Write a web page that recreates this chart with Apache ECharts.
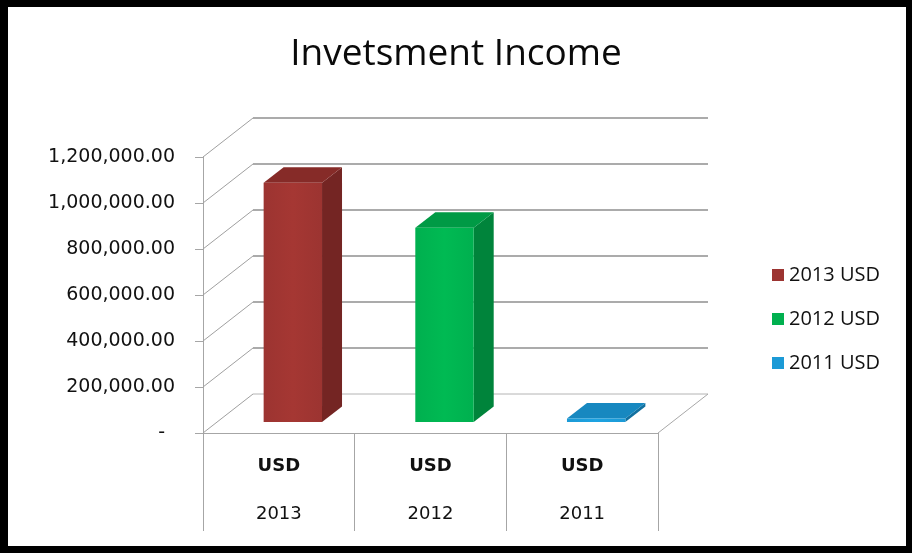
<!DOCTYPE html>
<html>
<head>
<meta charset="utf-8">
<title>Invetsment Income</title>
<script src="https://cdn.jsdelivr.net/npm/echarts@6/dist/echarts.min.js"></script>
<style>
  html, body { margin: 0; padding: 0; background: #fff; }
  #chart { width: 912px; height: 553px; }
</style>
</head>
<body>
<div id="chart"></div>
<script>
// Categories along the bottom table and the currency row above them
const categories = ['2013', '2012', '2011'];
const currency = 'USD';
// One entry per year, as named in the legend
const seriesNames = ['2013 USD', '2012 USD', '2011 USD'];
const values = [1040000, 845000, 15000];
// Value axis ticks
const yTicks = [0, 200000, 400000, 600000, 800000, 1000000, 1200000];

// Face colours for each bar: front, side, top
const faceColors = [
  { front: '#9c3431', side: '#742523', top: '#862b28' },
  { front: '#00b04f', side: '#00843b', top: '#009a45' },
  { front: '#1c9ad6', side: '#12709f', top: '#1788c0' }
];

// Depth of the chart box (oblique projection offset from front to back wall)
const DEPTH_X = 50, DEPTH_Y = -39;
// Bars stand a little way into the box and have their own depth
const BAR_SHIFT_X = 14, BAR_SHIFT_Y = -11;
const BAR_DX = 20, BAR_DY = -15.5;

const chart = echarts.init(document.getElementById('chart'), null, { renderer: 'canvas' });

function renderWall(params, api) {
  const cs = params.coordSys;
  const v = api.value(1);
  const y = api.coord([0, v])[1];
  const left = cs.x, right = cs.x + cs.width;
  const pts = [[left, y], [left + DEPTH_X, y + DEPTH_Y], [right + DEPTH_X, y + DEPTH_Y]];
  const children = [
    { type: 'polyline', shape: { points: [pts[0], pts[1]] }, style: { stroke: '#a0a0a0', lineWidth: 1, fill: null } },
    { type: 'polyline', shape: { points: [pts[1], pts[2]] }, style: { stroke: v === 0 ? '#b4b4b4' : '#8f8f8f', lineWidth: v === 0 ? 1 : 1.6, fill: null } }
  ];
  if (v === 0) {
    // right edge of the floor
    children.push({ type: 'polyline', shape: { points: [pts[2], [right, y]] }, style: { stroke: '#a8a8a8', lineWidth: 1, fill: null } });
  }
  return { type: 'group', children: children };
}

function makeBarRenderer(colors) {
  return function (params, api) {
    const cat = api.value(0), v = api.value(1);
    const top = api.coord([cat, v]);
    const base = api.coord([cat, 0]);
    const w = api.size([1, 0])[0] * 0.385;
    const x0 = top[0] + BAR_SHIFT_X - w / 2, x1 = x0 + w;
    const yb = base[1] + BAR_SHIFT_Y, yt = top[1] + BAR_SHIFT_Y;
    return {
      type: 'group',
      children: [
        { type: 'polygon', shape: { points: [[x1, yb], [x1 + BAR_DX, yb + BAR_DY], [x1 + BAR_DX, yt + BAR_DY], [x1, yt]] }, style: { fill: colors.side } },
        { type: 'polygon', shape: { points: [[x0, yt], [x1, yt], [x1 + BAR_DX, yt + BAR_DY], [x0 + BAR_DX, yt + BAR_DY]] }, style: { fill: colors.top } },
        { type: 'polygon', shape: { points: [[x0, yb], [x1, yb], [x1, yt], [x0, yt]] },
          style: { fill: new echarts.graphic.LinearGradient(0, 0, 1, 0, [
            { offset: 0, color: colors.front },
            { offset: 0.5, color: echarts.color.lift(colors.front, -0.06) },
            { offset: 1, color: colors.front }
          ]) } }
      ]
    };
  };
}

function formatMoney(v) {
  if (v === 0) return '{d|-}';
  return v.toLocaleString('en-US', { minimumFractionDigits: 2, maximumFractionDigits: 2 });
}

const barSeries = seriesNames.map((name, i) => ({
  name: name,
  type: 'custom',
  coordinateSystem: 'cartesian2d',
  renderItem: makeBarRenderer(faceColors[i]),
  itemStyle: { color: faceColors[i].front },
  data: [[i, values[i]]],
  z: 5
}));

const option = {
  animation: false,
  backgroundColor: '#ffffff',
  title: {
    text: 'Invetsment Income',
    left: 'center',
    top: 31,
    textStyle: { fontFamily: 'Open Sans', fontSize: 37, fontWeight: 'normal', color: '#0a0a0a' }
  },
  legend: {
    orient: 'vertical',
    left: 767,
    top: 259,
    itemWidth: 12,
    itemHeight: 12,
    itemGap: 22,
    icon: 'rect',
    data: seriesNames,
    textStyle: { fontFamily: 'Open Sans', fontSize: 20, lineHeight: 22, color: '#111' }
  },
  grid: { left: 203, right: 254, top: 157, bottom: 120 },
  xAxis: {
    type: 'category',
    data: categories,
    boundaryGap: true,
    axisLine: { show: true, lineStyle: { color: '#a6a6a6', width: 1 } },
    axisTick: { show: true, length: 98, alignWithLabel: false, lineStyle: { color: '#a6a6a6' } },
    axisLabel: {
      margin: 9,
      formatter: v => '{u|' + currency + '}\n{y|' + v + '}',
      rich: {
        u: { fontFamily: 'DejaVu Sans', fontSize: 18, fontWeight: 'bold', lineHeight: 48, color: '#111' },
        y: { fontFamily: 'DejaVu Sans', fontSize: 18, lineHeight: 48, color: '#111' }
      }
    },
    splitLine: { show: false }
  },
  yAxis: {
    type: 'value',
    min: 0,
    max: 1200000,
    interval: 200000,
    axisLine: { show: true, lineStyle: { color: '#a6a6a6', width: 1 } },
    axisTick: { show: true, length: 8, lineStyle: { color: '#a6a6a6' } },
    splitLine: { show: false },
    axisLabel: {
      margin: 28,
      formatter: formatMoney,
      fontFamily: 'DejaVu Sans',
      fontSize: 19,
      color: '#111',
      rich: { d: { fontFamily: 'DejaVu Sans', fontSize: 19, color: '#111', padding: [0, 10, 0, 0] } }
    }
  },
  graphic: [
    // outer black frame
    { type: 'rect', shape: { x: 0, y: 0, width: 8, height: 553 }, style: { fill: '#000' }, z: 100 },
    { type: 'rect', shape: { x: 0, y: 0, width: 912, height: 7 }, style: { fill: '#000' }, z: 100 },
    { type: 'rect', shape: { x: 906, y: 0, width: 6, height: 553 }, style: { fill: '#000' }, z: 100 },
    { type: 'rect', shape: { x: 0, y: 546, width: 912, height: 7 }, style: { fill: '#000' }, z: 100 }
  ],
  series: [
    {
      name: 'wall',
      type: 'custom',
      coordinateSystem: 'cartesian2d',
      renderItem: renderWall,
      silent: true,
      data: yTicks.map(v => [0, v]),
      z: 1
    }
  ].concat(barSeries)
};

chart.setOption(option);
</script>
</body>
</html>
